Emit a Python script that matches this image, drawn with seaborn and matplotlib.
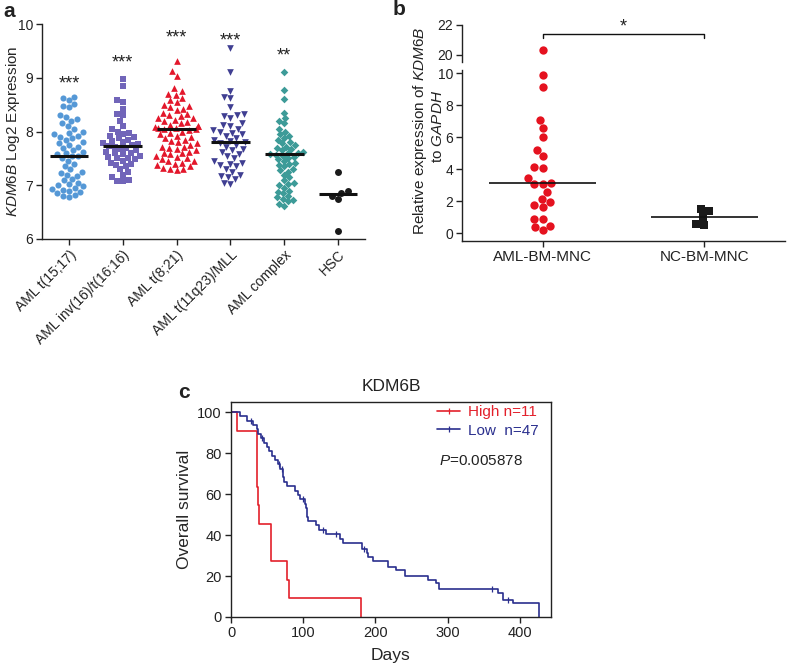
import numpy as np
import pandas as pd
import matplotlib
matplotlib.use('Agg')
import matplotlib.pyplot as plt
import seaborn as sns
from matplotlib.lines import Line2D

# ---------------- data ----------------
cats_a = ['AML t(15;17)', 'AML inv(16)/t(16;16)', 'AML t(8;21)',
          'AML t(11q23)/MLL', 'AML complex', 'HSC']
vals_t1517 = [8.65, 8.62, 8.58, 8.52, 8.48, 8.45, 8.30, 8.27, 8.24, 8.20, 8.15, 8.10, 8.05,
              7.98, 7.95, 7.92, 7.90, 7.88, 7.85, 7.80, 7.78, 7.72, 7.70, 7.65, 7.62, 7.58,
              7.55, 7.54, 7.50, 7.45, 7.40, 7.35, 7.30, 7.25, 7.23, 7.20, 7.18, 7.12, 7.10,
              7.05, 7.02, 7.00, 6.98, 6.95, 6.93, 6.92, 6.90, 6.88, 6.85, 6.82, 6.80, 6.78,
              7.60, 7.75, 8.00]
vals_inv16 = [8.98, 8.85, 8.58, 8.55, 8.42, 8.33, 8.30, 8.20, 8.10, 8.05, 8.00, 7.98, 7.95,
              7.92, 7.90, 7.88, 7.85, 7.82, 7.80, 7.78, 7.76, 7.74, 7.73, 7.72, 7.70, 7.68,
              7.65, 7.62, 7.60, 7.58, 7.55, 7.52, 7.50, 7.48, 7.45, 7.42, 7.40, 7.38, 7.35,
              7.30, 7.25, 7.20, 7.15, 7.10, 7.08, 7.07, 7.50, 7.60]
vals_t821 = [9.32, 9.12, 9.03, 8.80, 8.75, 8.70, 8.68, 8.62, 8.58, 8.55, 8.50, 8.48, 8.45,
             8.42, 8.40, 8.35, 8.32, 8.30, 8.28, 8.25, 8.22, 8.20, 8.18, 8.15, 8.12, 8.10,
             8.08, 8.07, 8.06, 8.05, 8.04, 8.02, 8.00, 7.98, 7.95, 7.92, 7.90, 7.88, 7.85,
             7.82, 7.80, 7.78, 7.75, 7.72, 7.70, 7.68, 7.65, 7.62, 7.60, 7.58, 7.55, 7.52,
             7.50, 7.48, 7.45, 7.42, 7.40, 7.38, 7.35, 7.32, 7.30, 7.28, 7.30, 7.45, 7.60,
             7.72, 8.10, 8.25]
vals_mll = [9.55, 9.10, 8.75, 8.65, 8.62, 8.45, 8.32, 8.30, 8.28, 8.25, 8.15, 8.12, 8.10,
            8.05, 8.02, 8.00, 7.98, 7.95, 7.92, 7.88, 7.85, 7.82, 7.80, 7.78, 7.75, 7.72,
            7.68, 7.62, 7.58, 7.55, 7.50, 7.45, 7.42, 7.38, 7.35, 7.30, 7.25, 7.20, 7.18,
            7.15, 7.12, 7.05, 7.02, 7.65, 7.40]
vals_complex = [9.10, 8.78, 8.60, 8.35, 8.25, 8.20, 8.15, 8.05, 8.00, 7.95, 7.92, 7.88, 7.85,
                7.80, 7.78, 7.75, 7.72, 7.70, 7.68, 7.65, 7.62, 7.60, 7.58, 7.57, 7.55, 7.52,
                7.50, 7.48, 7.45, 7.42, 7.38, 7.35, 7.30, 7.28, 7.25, 7.20, 7.15, 7.10, 7.05,
                7.02, 6.95, 6.90, 6.88, 6.85, 6.80, 6.78, 6.75, 6.72, 6.70, 6.65, 6.62, 7.60,
                7.40, 7.00]
vals_hsc = [7.24, 6.90, 6.86, 6.80, 6.74, 6.14]
medians_a = [7.54, 7.73, 8.05, 7.80, 7.58, 6.84]
stars_a = ['***', '***', '***', '***', '**', '']
stars_a_y = [9.0, 9.39, 9.85, 9.80, 9.53, None]

cats_b = ['AML-BM-MNC', 'NC-BM-MNC']
vals_aml_b = [20.3, 9.9, 9.15, 7.1, 6.6, 5.98, 5.2, 4.8, 4.1, 4.06, 3.44, 3.1, 3.08, 3.08,
              2.54, 2.15, 1.94, 1.77, 1.62, 0.9, 0.87, 0.44, 0.38, 0.17]
vals_nc_b = [1.52, 1.35, 1.0, 0.58, 0.5]
medians_b = [3.1, 1.02]

high_days = [0, 8, 36, 38, 39, 56, 78, 80, 180]
high_surv = [100, 90.9, 63.6, 54.5, 45.5, 27.3, 18.2, 9.1, 0]
low_days = [0, 12, 22, 30, 36, 38, 41, 45, 50, 53, 57, 61, 65, 68, 72, 73, 77, 88, 93, 96,
            102, 104, 105, 107, 118, 122, 132, 151, 155, 181, 188, 190, 197, 218, 228, 241,
            273, 284, 288, 370, 376, 391, 426]
low_surv = [100, 97.9, 95.7, 93.6, 91.5, 89.4, 87.2, 85.1, 83.0, 80.9, 78.7, 76.6, 74.5,
            72.3, 68.1, 66.0, 63.8, 61.7, 59.6, 57.4, 55.3, 53.2, 48.9, 46.8, 44.7, 42.6,
            40.4, 38.3, 36.2, 33.4, 31.0, 29.4, 27.1, 24.5, 22.8, 20.1, 18.0, 16.4, 13.6,
            11.6, 8.4, 6.6, 0]
low_censor_days = [28, 43, 66, 70, 100, 128, 146, 184, 362, 384]

# ---------------- style ----------------
sns.set_theme(style='ticks')
plt.rcParams['font.family'] = ['Liberation Sans', 'DejaVu Sans']
plt.rcParams['mathtext.fontset'] = 'custom'
plt.rcParams['mathtext.rm'] = 'Liberation Sans'
plt.rcParams['mathtext.it'] = 'Liberation Sans:italic'
plt.rcParams['axes.linewidth'] = 1.0
plt.rcParams['xtick.major.width'] = 1.0
plt.rcParams['ytick.major.width'] = 1.0
plt.rcParams['xtick.major.size'] = 4
plt.rcParams['ytick.major.size'] = 4
plt.rcParams['xtick.major.pad'] = 2.5
plt.rcParams['ytick.major.pad'] = 2.5
plt.rcParams['axes.edgecolor'] = '#222222'
plt.rcParams['text.color'] = '#222222'
plt.rcParams['xtick.color'] = '#222222'
plt.rcParams['ytick.color'] = '#222222'

W, H = 787, 666
fig = plt.figure(figsize=(W / 100, H / 100), dpi=100)


def box(l, t, r, b):
    return [l / W, 1 - b / H, (r - l) / W, (b - t) / H]


# ---------------- panel a ----------------
axA = fig.add_axes(box(42, 24, 365, 239))
groups = [vals_t1517, vals_inv16, vals_t821, vals_mll, vals_complex, vals_hsc]
colors_a = ['#5598d6', '#7165b9', '#e3172b', '#403f92', '#3d9b98', '#1a1a1a']
markers_a = ['o', 's', '^', 'v', 'D', 'o']
sizes_a = [4.4, 4.2, 4.8, 4.8, 3.9, 5.0]
for cat, vals, col, mk, sz in zip(cats_a, groups, colors_a, markers_a, sizes_a):
    df = pd.DataFrame({'group': [cat] * len(vals), 'value': vals})
    sns.swarmplot(data=df, x='group', y='value', order=cats_a, color=col, marker=mk,
                  size=sz, linewidth=0, ax=axA)
for i, m in enumerate(medians_a):
    axA.hlines(m, i - 0.36, i + 0.36, color='#111111', lw=2.2, zorder=5)
for i, (s, y) in enumerate(zip(stars_a, stars_a_y)):
    if s:
        axA.text(i, y - 0.2, s, ha='center', va='baseline', fontsize=13)
axA.set_xlim(-0.5, 5.5)
axA.set_ylim(6, 10)
axA.set_yticks([6, 7, 8, 9, 10])
axA.set_xticks(range(len(cats_a)))
axA.set_xticklabels(cats_a, rotation=45, ha='right', rotation_mode='anchor', fontsize=10)
axA.tick_params(axis='y', labelsize=10)
axA.set_xlabel('')
axA.set_ylabel(r'$\it{KDM6B}$ Log2 Expression', fontsize=11)
axA.yaxis.set_label_coords(-0.062, 0.5)
sns.despine(ax=axA)

# ---------------- panel b ----------------
axB = fig.add_axes(box(462, 70, 785, 241))
axBu = fig.add_axes(box(462, 25, 785, 62))
low_aml = [v for v in vals_aml_b if v <= 10.2]
high_aml = [v for v in vals_aml_b if v > 10.2]
dfb1 = pd.DataFrame({'group': [cats_b[0]] * len(low_aml), 'value': low_aml})
dfb2 = pd.DataFrame({'group': [cats_b[1]] * len(vals_nc_b), 'value': vals_nc_b})
sns.swarmplot(data=dfb1, x='group', y='value', order=cats_b, color='#e5121f', marker='o',
              size=6, linewidth=0, ax=axB)
sns.swarmplot(data=dfb2, x='group', y='value', order=cats_b, color='#1a1a1a', marker='s',
              size=5.8, linewidth=0, ax=axB)
dfb3 = pd.DataFrame({'group': [cats_b[0]] * len(high_aml), 'value': high_aml})
sns.swarmplot(data=dfb3, x='group', y='value', order=cats_b, color='#e5121f', marker='o',
              size=6, linewidth=0, ax=axBu)
for i, m in enumerate(medians_b):
    axB.hlines(m, i - 0.33, i + 0.33, color='#111111', lw=1.2, zorder=5)
axB.set_xlim(-0.5, 1.5)
axB.set_ylim(-0.5, 10.2)
axB.set_yticks([0, 2, 4, 6, 8, 10])
axB.set_xticks([0, 1])
axB.set_xticklabels(cats_b, fontsize=11)
axB.tick_params(axis='y', labelsize=10)
axB.set_xlabel('')
axB.set_ylabel('')
sns.despine(ax=axB)
axBu.set_xlim(-0.5, 1.5)
axBu.set_ylim(19.53, 22)
axBu.set_yticks([20, 22])
axBu.tick_params(axis='y', labelsize=10)
axBu.set_xticks([])
axBu.set_xlabel('')
axBu.set_ylabel('')
sns.despine(ax=axBu, bottom=True)
# significance bracket
axBu.plot([0, 0, 1, 1], [21.13, 21.4, 21.4, 21.13], color='#111111', lw=1.0, clip_on=False)
axBu.text(0.5, 21.55, '*', ha='center', va='baseline', fontsize=13)
fig.text(420 / W, 1 - 131 / H, 'Relative expression of $\\it{KDM6B}$',
         rotation=90, ha='center', va='center', fontsize=11)
fig.text(438 / W, 1 - 126 / H, 'to $\\it{GAPDH}$',
         rotation=90, ha='center', va='center', fontsize=11)

# ---------------- panel c ----------------
axC = fig.add_axes(box(231, 402, 551, 617))
red, navy = '#e3202b', '#2a2f8e'
axC.step(high_days, high_surv, where='post', color=red, lw=1.2)
axC.step(low_days, low_surv, where='post', color=navy, lw=1.2)
ld = np.array(low_days)
ls = np.array(low_surv)
cens_y = [ls[np.searchsorted(ld, d, side='right') - 1] for d in low_censor_days]
axC.plot(low_censor_days, cens_y, ls='none', marker='|', ms=5, mew=0.9, color=navy)
axC.set_xlim(0, 443)
axC.set_ylim(0, 104.9)
axC.set_xticks([0, 100, 200, 300, 400])
axC.set_yticks([0, 20, 40, 60, 80, 100])
axC.tick_params(labelsize=10.5, top=False, right=False)
axC.set_xlabel('Days', fontsize=12.5, labelpad=6)
axC.set_ylabel('Overall survival', fontsize=12.5, labelpad=4)
axC.set_title('KDM6B', fontsize=12.5, pad=8)
for sp in axC.spines.values():
    sp.set_visible(True)
handles = [Line2D([], [], color=red, lw=1.2, marker='|', ms=5, mew=0.9),
           Line2D([], [], color=navy, lw=1.2, marker='|', ms=5, mew=0.9)]
leg = axC.legend(handles, ['High n=11', 'Low  n=47'], loc='upper left',
                 bbox_to_anchor=(0.645, 0.985), frameon=False, fontsize=11,
                 handlelength=1.5, handletextpad=0.5, labelspacing=0.3,
                 borderpad=0, borderaxespad=0)
for t, c in zip(leg.get_texts(), [red, navy]):
    t.set_color(c)
axC.text(0.651, 0.7256, '$\\it{P}$=0.005878', transform=axC.transAxes, fontsize=11,
         va='center', ha='left')

# panel letters
fig.text(3 / W, 1 - 17 / H, 'a', fontsize=15, fontweight='bold', va='baseline')
fig.text(393 / W, 1 - 15 / H, 'b', fontsize=15, fontweight='bold', va='baseline')
fig.text(178 / W, 1 - 398 / H, 'c', fontsize=15, fontweight='bold', va='baseline')

fig.savefig('out.png', dpi=100)
